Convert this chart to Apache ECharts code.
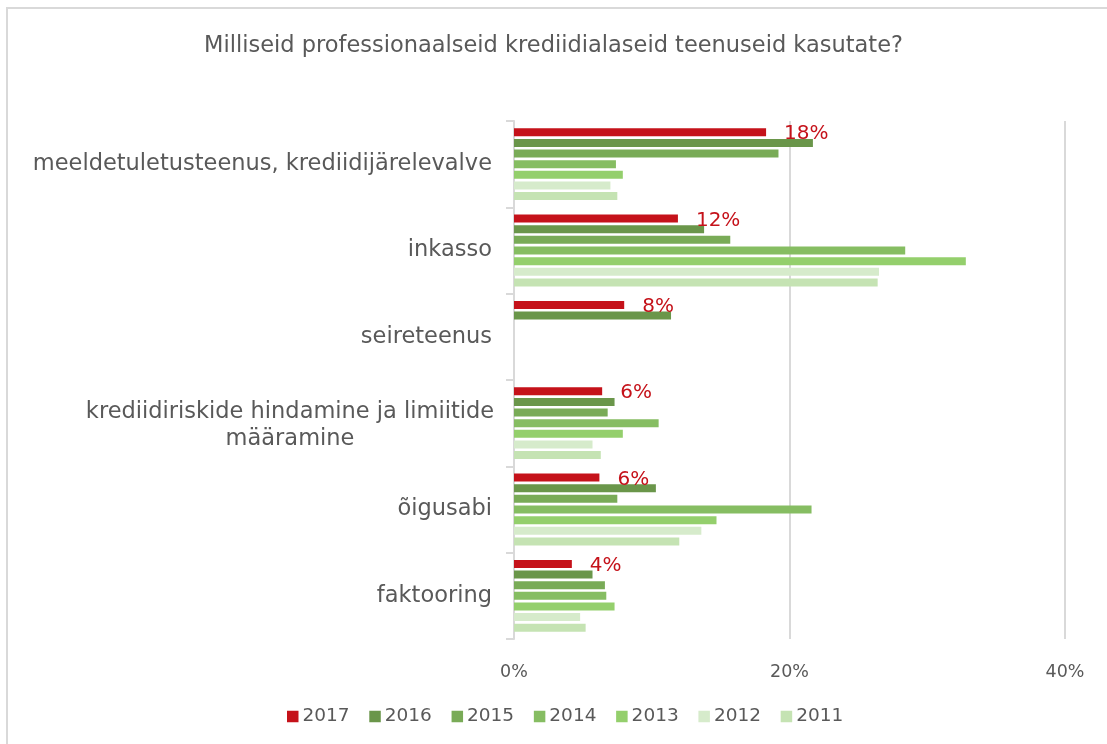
<!DOCTYPE html>
<html>
<head>
<meta charset="utf-8">
<script src="https://cdn.jsdelivr.net/npm/echarts@6/dist/echarts.min.js"></script>
<style>
  html, body { margin: 0; padding: 0; background: #fff; }
  #frame { position: absolute; left: 6px; top: 7px; width: 1200px; height: 800px;
           border-left: 2px solid #d9d9d9; border-top: 2px solid #d9d9d9; }
  #main { position: absolute; left: 0; top: 0; width: 1107px; height: 744px; }
</style>
</head>
<body>
<div id="frame"></div>
<div id="main"></div>
<script>
// kategooriad (ülevalt alla)
var categories = [
  'meeldetuletusteenus, krediidijärelevalve',
  'inkasso',
  'seireteenus',
  'krediidiriskide hindamine ja limiitide\nmääramine',
  'õigusabi',
  'faktooring'
];
var years = ['2017', '2016', '2015', '2014', '2013', '2012', '2011'];

// väärtused protsentides, loetud pildilt
var v2017 = [18.3, 11.9, 8.0, 6.4, 6.2, 4.2];
var v2016 = [21.7, 13.8, 11.4, 7.3, 10.3, 5.7];
var v2015 = [19.2, 15.7, null, 6.8, 7.5, 6.6];
var v2014 = [7.4, 28.4, null, 10.5, 21.6, 6.7];
var v2013 = [7.9, 32.8, null, 7.9, 14.7, 7.3];
var v2012 = [7.0, 26.5, null, 5.7, 13.6, 4.8];
var v2011 = [7.5, 26.4, null, 6.3, 12.0, 5.2];

var xTicks = [0, 20, 40];

var colors = ['#C5121A', '#6A964A', '#79AB57', '#86BD62', '#94CF6C', '#D6EBCB', '#C5E3B3'];
var font = 'DejaVu Sans';
var allData = [v2017, v2016, v2015, v2014, v2013, v2012, v2011];

var myChart = echarts.init(document.getElementById('main'));
var serieData = [];
for (var i = 0; i < years.length; i++) {
  var serie = {
    name: years[i],
    type: 'bar',
    barWidth: 8,
    barGap: '33%',
    data: allData[i],
    itemStyle: { color: colors[i] }
  };
  if (i == 0) {
    serie.label = {
      show: true, position: 'right', distance: 18, offset: [0, 2],
      color: '#C5121A', fontSize: 20, fontFamily: font,
      formatter: function (p) { return Math.round(p.value) + '%'; }
    };
  }
  serieData.push(serie);
}

var option = {
  animation: false,
  color: colors,
  title: {
    text: 'Milliseid professionaalseid krediidialaseid teenuseid kasutate?',
    left: 'center', top: 30,
    textStyle: { color: '#595959', fontSize: 22.5, fontWeight: 'normal', fontFamily: font }
  },
  legend: {
    data: years, left: 287, top: 707, padding: 0,
    itemWidth: 11.5, itemHeight: 11.5, itemGap: 19.7,
    icon: 'rect',
    textStyle: { color: '#595959', fontSize: 18.5, fontFamily: font, padding: [0, 0, 0, -1] }
  },
  grid: { left: 514, right: 42, top: 121, bottom: 105 },
  xAxis: {
    type: 'value', min: 0, max: 40, interval: 20,
    axisLine: { show: false }, axisTick: { show: false },
    splitLine: { show: true, lineStyle: { color: '#d9d9d9', width: 2 } },
    axisLabel: {
      color: '#595959', fontSize: 17.5, fontFamily: font, margin: 24,
      formatter: function (v) { return xTicks.indexOf(v) >= 0 ? v + '%' : ''; }
    }
  },
  yAxis: {
    type: 'category', data: categories, inverse: true,
    axisLine: { show: true, lineStyle: { color: '#d9d9d9', width: 2 } },
    axisTick: { show: true, length: 8, lineStyle: { color: '#d9d9d9', width: 2 } },
    axisLabel: {
      color: '#595959', fontSize: 22.5, fontFamily: font, margin: 22, lineHeight: 26,
      formatter: function (v) {
        if (v.indexOf('\n') >= 0) return '{c|' + v + '}';
        return v;
      },
      rich: {
        c: { align: 'center', width: 404, color: '#595959', fontSize: 22.5, fontFamily: font, lineHeight: 27, padding: [5, 0, 0, 0] }
      }
    }
  },
  series: serieData
};
myChart.setOption(option);
</script>
</body>
</html>
